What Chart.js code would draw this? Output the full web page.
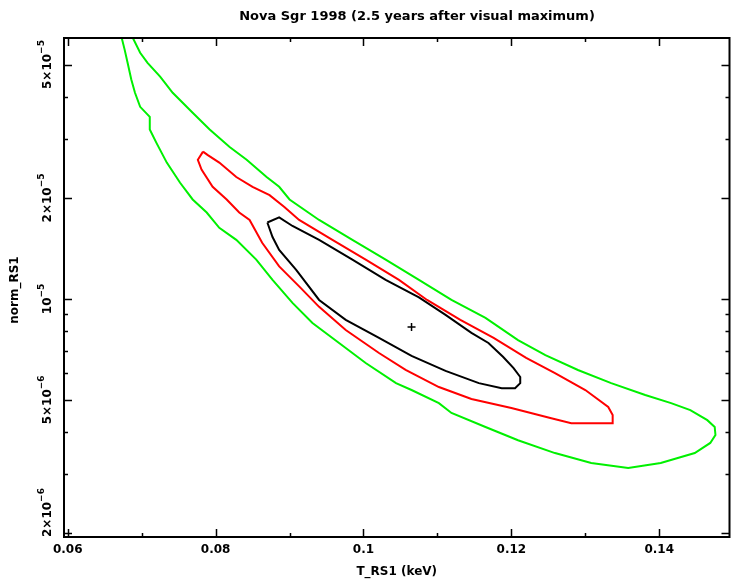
<!DOCTYPE html>
<html><head><meta charset="utf-8">
<script src="https://cdn.jsdelivr.net/npm/chart.js@4/dist/chart.umd.min.js"></script>
<style>html,body{margin:0;padding:0;background:#fff;}#wrap{width:735px;height:584px;}</style>
</head><body><div id="wrap"><canvas id="c" width="735" height="584"></canvas></div>
<script>
const titleText = "Nova Sgr 1998 (2.5 years after visual maximum)";
const xTitle = "T_RS1 (keV)";
const yTitle = "norm_RS1";
const xRange = [0.0595, 0.1495];
const yRange = [1.95e-6, 6.0e-5];
const xTicks = [0.06,0.07,0.08,0.09,0.10,0.11,0.12,0.13,0.14];
const xTickLabels = ["0.06","","0.08","","0.1","","0.12","","0.14"];
const yTicks = [2e-6,3e-6,4e-6,5e-6,6e-6,7e-6,8e-6,9e-6,1e-5,2e-5,3e-5,4e-5,5e-5];
const yMajor = [2e-6,5e-6,1e-5,2e-5,5e-5];
const yLabelMant = ["2\u00d710","5\u00d710","10","2\u00d710","5\u00d710"];
const yLabelExp = ["\u22126","\u22126","\u22125","\u22125","\u22125"];

// 99% contour (green), open at top of plot
const greenT = [0.0673,0.0677,0.0681,0.0686,0.0691,0.0698,0.0711,0.0711,0.0720,0.0734,0.0752,0.0769,0.0788,0.0805,0.0828,0.0855,0.0877,0.0904,0.0931,0.0967,0.1003,0.1044,0.1065,0.1102,0.1119,0.1165,0.1209,0.1259,0.1308,0.1358,0.1402,0.1448,0.1469,0.1476,0.1475,0.1465,0.1442,0.1416,0.1381,0.1335,0.1290,0.1246,0.1209,0.1165,0.1119,0.1075,0.1030,0.0985,0.0940,0.0900,0.0886,0.0869,0.0842,0.0819,0.0792,0.0769,0.0742,0.0725,0.0708,0.0698,0.0688];
const greenN = [6.01e-5,5.54e-5,5.06e-5,4.51e-5,4.12e-5,3.74e-5,3.49e-5,3.20e-5,2.92e-5,2.55e-5,2.22e-5,1.98e-5,1.81e-5,1.63e-5,1.50e-5,1.31e-5,1.14e-5,9.73e-6,8.48e-6,7.39e-6,6.44e-6,5.61e-6,5.35e-6,4.89e-6,4.57e-6,4.15e-6,3.79e-6,3.47e-6,3.24e-6,3.13e-6,3.24e-6,3.47e-6,3.72e-6,3.93e-6,4.15e-6,4.35e-6,4.66e-6,4.89e-6,5.17e-6,5.61e-6,6.14e-6,6.80e-6,7.54e-6,8.78e-6,9.93e-6,1.14e-5,1.31e-5,1.50e-5,1.72e-5,1.98e-5,2.16e-5,2.31e-5,2.60e-5,2.84e-5,3.20e-5,3.59e-5,4.12e-5,4.60e-5,5.06e-5,5.42e-5,6.01e-5];
// 90% contour (red)
const redT = [0.0783,0.0789,0.0805,0.0828,0.0850,0.0873,0.0893,0.0913,0.0958,0.1003,0.1048,0.1086,0.1131,0.1176,0.1220,0.1259,0.1300,0.1331,0.1337,0.1337,0.1281,0.1254,0.1200,0.1146,0.1102,0.1057,0.1021,0.0976,0.0940,0.0913,0.0886,0.0863,0.0846,0.0832,0.0815,0.0796,0.0781,0.0776,0.0783];
const redN = [2.75e-5,2.69e-5,2.55e-5,2.31e-5,2.16e-5,2.04e-5,1.88e-5,1.72e-5,1.50e-5,1.31e-5,1.14e-5,9.93e-6,8.66e-6,7.65e-6,6.67e-6,6.01e-6,5.35e-6,4.76e-6,4.51e-6,4.26e-6,4.26e-6,4.41e-6,4.73e-6,5.03e-6,5.46e-6,6.14e-6,6.90e-6,8.08e-6,9.47e-6,1.09e-5,1.25e-5,1.47e-5,1.72e-5,1.81e-5,1.98e-5,2.16e-5,2.43e-5,2.60e-5,2.75e-5];
// 68% contour (black)
const blackT = [0.0870,0.0886,0.0904,0.0940,0.0985,0.1030,0.1075,0.1111,0.1146,0.1169,0.1189,0.1203,0.1212,0.1212,0.1205,0.1187,0.1156,0.1111,0.1065,0.1021,0.0976,0.0940,0.0909,0.0886,0.0877,0.0870];
const blackN = [1.69e-5,1.75e-5,1.65e-5,1.50e-5,1.31e-5,1.14e-5,1.01e-5,8.96e-6,7.92e-6,7.39e-6,6.71e-6,6.22e-6,5.85e-6,5.61e-6,5.42e-6,5.42e-6,5.61e-6,6.10e-6,6.76e-6,7.65e-6,8.66e-6,9.93e-6,1.22e-5,1.40e-5,1.53e-5,1.69e-5];
// best fit
const bestT = [0.1065];
const bestN = [8.25e-6];

const toPts = (xs, ys) => xs.map((x, i) => ({x: x, y: ys[i]}));
const FONT = 'bold 12px "DejaVu Sans"';

const framePlugin = {
  id: 'frame',
  afterDraw(chart) {
    const ctx = chart.ctx, a = chart.chartArea;
    const xs = chart.scales.x, ys = chart.scales.y;
    ctx.save();
    ctx.strokeStyle = '#000'; ctx.fillStyle = '#000';
    ctx.lineWidth = 2;
    ctx.strokeRect(a.left, a.top, a.right - a.left, a.bottom - a.top);
    ctx.lineWidth = 1.5;
    xTicks.forEach((v, i) => {
      const px = Math.round(xs.getPixelForValue(v)) + 0.5;
      const len = xTickLabels[i] ? 8 : 4;
      ctx.beginPath();
      ctx.moveTo(px, a.bottom); ctx.lineTo(px, a.bottom - len);
      ctx.moveTo(px, a.top); ctx.lineTo(px, a.top + len);
      ctx.stroke();
    });
    yTicks.forEach(v => {
      const py = Math.round(ys.getPixelForValue(v)) + 0.5;
      const len = yMajor.some(m => Math.abs(m - v) / v < 1e-6) ? 8 : 4;
      ctx.beginPath();
      ctx.moveTo(a.left, py); ctx.lineTo(a.left + len, py);
      ctx.moveTo(a.right, py); ctx.lineTo(a.right - len, py);
      ctx.stroke();
    });
    ctx.font = FONT; ctx.textAlign = 'center'; ctx.textBaseline = 'middle';
    xTicks.forEach((v, i) => {
      if (!xTickLabels[i]) return;
      ctx.fillText(xTickLabels[i], xs.getPixelForValue(v), a.bottom + 13);
    });
    yMajor.forEach((v, i) => {
      const py = ys.getPixelForValue(v);
      ctx.font = FONT;
      const wm = ctx.measureText(yLabelMant[i]).width;
      ctx.font = 'bold 9px "DejaVu Sans"';
      const we = ctx.measureText(yLabelExp[i]).width;
      const tot = wm + we;
      let c = py;
      if (c + tot / 2 > a.bottom) c = a.bottom - tot / 2;
      ctx.save();
      ctx.translate(46, c);
      ctx.rotate(-Math.PI / 2);
      ctx.textAlign = 'left'; ctx.textBaseline = 'middle';
      ctx.font = FONT;
      ctx.fillText(yLabelMant[i], -tot / 2, 2);
      ctx.font = 'bold 9px "DejaVu Sans"';
      ctx.fillText(yLabelExp[i], -tot / 2 + wm, -4);
      ctx.restore();
    });
    ctx.font = 'bold 13px "DejaVu Sans"'; ctx.textAlign = 'center'; ctx.textBaseline = 'middle';
    ctx.fillText(titleText, 417, 17);
    ctx.font = FONT;
    ctx.fillText(xTitle, (a.left + a.right) / 2, a.bottom + 35);
    ctx.save();
    ctx.translate(15, 290);
    ctx.rotate(-Math.PI / 2);
    ctx.fillText(yTitle, 0, 0);
    ctx.restore();
    ctx.restore();
  }
};

new Chart(document.getElementById('c'), {
  type: 'scatter',
  data: {
    datasets: [
      {data: toPts(greenT, greenN), showLine: true, borderColor: '#00f000', borderWidth: 2, pointRadius: 0, fill: false, tension: 0},
      {data: toPts(redT, redN), showLine: true, borderColor: '#ff0000', borderWidth: 2, pointRadius: 0, fill: false, tension: 0},
      {data: toPts(blackT, blackN), showLine: true, borderColor: '#000000', borderWidth: 2, pointRadius: 0, fill: false, tension: 0},
      {data: toPts(bestT, bestN), showLine: false, pointStyle: 'cross', pointRadius: 4, borderColor: '#000', borderWidth: 1.5}
    ]
  },
  options: {
    responsive: false, animation: false, devicePixelRatio: 1,
    layout: {padding: {top: 38, right: 2, left: 0, bottom: 0}},
    plugins: {legend: {display: false}, tooltip: {enabled: false}, title: {display: false}},
    scales: {
      x: {type: 'linear', min: xRange[0], max: xRange[1],
          afterBuildTicks: s => { s.ticks = xTicks.map(v => ({value: v})); },
          afterFit: s => { s.height = 47; },
          ticks: {display: false}, grid: {display: false}, border: {display: false}},
      y: {type: 'logarithmic', min: yRange[0], max: yRange[1],
          afterBuildTicks: s => { s.ticks = yTicks.map(v => ({value: v})); },
          afterFit: s => { s.width = 64; },
          ticks: {display: false}, grid: {display: false}, border: {display: false}}
    }
  },
  plugins: [framePlugin]
});
</script></body></html>
